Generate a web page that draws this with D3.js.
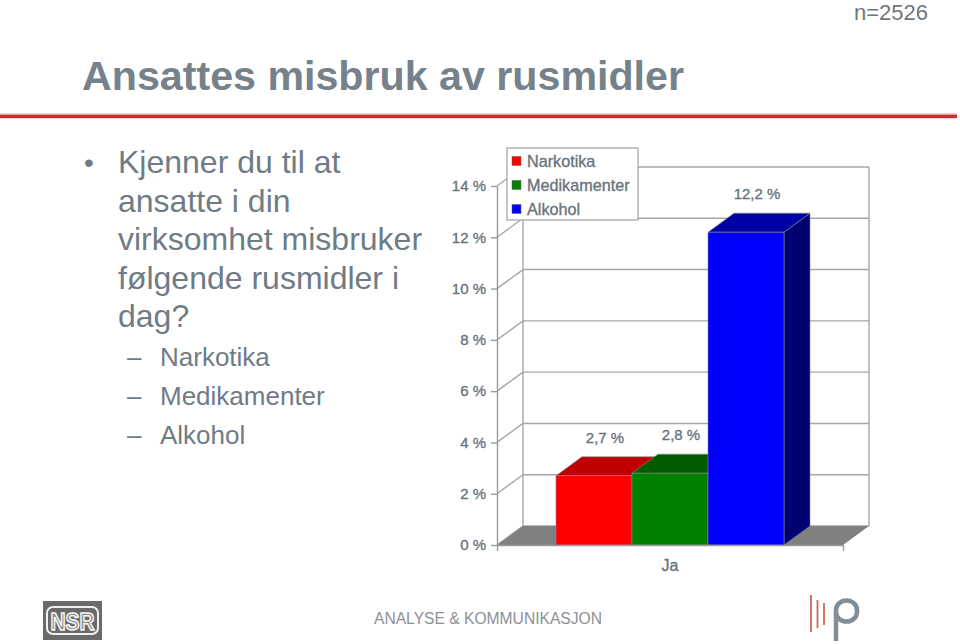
<!DOCTYPE html>
<html>
<head>
<meta charset="utf-8">
<script src="https://cdn.jsdelivr.net/npm/d3@7"></script>
<style>
  html, body { margin: 0; padding: 0; background: #ffffff; }
  svg { display: block; font-family: "Liberation Sans", Arial, sans-serif; }
</style>
</head>
<body>
<svg id="chart" width="960" height="644"></svg>
<script>
// ---- data ----
const categories = ["Ja"];
const series = ["Narkotika", "Medikamenter", "Alkohol"];
const values = [2.7, 2.8, 12.2];
const valueLabels = ["2,7 %", "2,8 %", "12,2 %"];
const yTicks = [0, 2, 4, 6, 8, 10, 12, 14];
const tickLabels = ["0 %", "2 %", "4 %", "6 %", "8 %", "10 %", "12 %", "14 %"];
const titleText = "Ansattes misbruk av rusmidler";
const sampleText = "n=2526";
const questionLines = ["Kjenner du til at", "ansatte i din", "virksomhet misbruker", "følgende rusmidler i", "dag?"];
const subItems = ["Narkotika", "Medikamenter", "Alkohol"];
const footerText = "ANALYSE & KOMMUNIKASJON";

// ---- styles ----
const frontColors = ["#FF0000", "#008000", "#0000FF"];
const topColors = ["#C00000", "#005C00", "#0000A6"];
const sideColors = ["#8C0000", "#003C00", "#000070"];
const textGray = "#6A737C";
const gridGray = "#A6A6A6";

const svg = d3.select("#chart");

// ---- header ----
svg.append("text").attr("x", 928).attr("y", 20).attr("text-anchor", "end")
  .attr("font-size", 22).attr("fill", "#6F767D").text(sampleText);

svg.append("text").attr("x", 82).attr("y", 90)
  .attr("font-size", 41).attr("font-weight", "bold").attr("fill", "#76828B")
  .attr("textLength", 602).attr("lengthAdjust", "spacingAndGlyphs")
  .text(titleText);

svg.append("rect").attr("x", 0).attr("y", 113.5).attr("width", 957).attr("height", 1.5).attr("fill", "#E4A0A0");
svg.append("rect").attr("x", 0).attr("y", 115).attr("width", 957).attr("height", 3.2).attr("fill", "#C3302D");

// ---- left text ----
const lineGap = 38.5;
svg.append("text").attr("x", 84).attr("y", 172).attr("font-size", 28).attr("fill", "#6F7B85").text("•");
svg.selectAll("text.q").data(questionLines).enter().append("text").attr("class", "q")
  .attr("x", 118).attr("y", (d, i) => 173 + i * lineGap)
  .attr("font-size", 32).attr("fill", "#6F7B85").text(d => d);
svg.selectAll("text.sub").data(subItems).enter().append("text").attr("class", "sub")
  .attr("x", 160).attr("y", (d, i) => 366 + i * 39)
  .attr("font-size", 26).attr("fill", "#6F7B85").text(d => d);
svg.selectAll("text.dash").data(subItems).enter().append("text").attr("class", "dash")
  .attr("x", 127).attr("y", (d, i) => 366 + i * 39)
  .attr("font-size", 26).attr("fill", "#6F7B85").text("–");

// ---- chart ----
const DX = 26, DY = -19;
const y = d3.scaleLinear().domain([0, 14]).range([545, 186]);
const xCat = d3.scaleBand().domain(categories).range([497, 843]);
const xSer = d3.scaleBand().domain(series).range([0, xCat.bandwidth()]).paddingOuter(0.776).paddingInner(0);

const g = svg.append("g");
const xL = xCat.range()[0], xR = xCat.range()[1];

// back wall grid lines
g.selectAll("line.grid").data(yTicks).enter().append("line")
  .attr("x1", xL + DX).attr("x2", xR + DX)
  .attr("y1", d => y(d) + DY).attr("y2", d => y(d) + DY)
  .attr("stroke", gridGray).attr("stroke-width", 1.4);
// side wall diagonals
g.selectAll("line.diag").data(yTicks).enter().append("line")
  .attr("x1", xL).attr("x2", xL + DX)
  .attr("y1", d => y(d)).attr("y2", d => y(d) + DY)
  .attr("stroke", gridGray).attr("stroke-width", 1.4);
// back wall verticals
[xL + DX, xR + DX].forEach(xx => {
  g.append("line").attr("x1", xx).attr("x2", xx)
    .attr("y1", y(0) + DY).attr("y2", y(14) + DY)
    .attr("stroke", gridGray).attr("stroke-width", 1.4);
});

// floor
g.append("polygon")
  .attr("points", [[xL, y(0)], [xR, y(0)], [xR + DX, y(0) + DY], [xL + DX, y(0) + DY]].map(p => p.join(",")).join(" "))
  .attr("fill", "#808080");

// y axis
const yAxis = d3.axisLeft(y).tickValues(yTicks).tickFormat((d, i) => tickLabels[i]).tickSize(6).tickSizeOuter(0).tickPadding(5);
const ya = g.append("g").attr("transform", `translate(${xL},0)`).call(yAxis);
ya.selectAll("path, line").attr("stroke", "#9A9A9A").attr("stroke-width", 1.4);
ya.selectAll("text").attr("font-size", 15).attr("fill", textGray)
  .attr("font-family", "Liberation Sans, Arial, sans-serif").attr("stroke", textGray).attr("stroke-width", 0.35);

// bars
series.forEach((s, i) => {
  const bx0 = xCat("Ja") + xSer(s);
  const bx1 = bx0 + xSer.bandwidth();
  const yt = y(values[i]), yb = y(0);
  const pts = arr => arr.map(p => p.join(",")).join(" ");
  g.append("polygon").attr("points", pts([[bx1, yb], [bx1, yt], [bx1 + DX, yt + DY], [bx1 + DX, yb + DY]]))
    .attr("fill", sideColors[i]).attr("stroke", "#8A8A8A").attr("stroke-width", 0.6);
  g.append("polygon").attr("points", pts([[bx0, yt], [bx1, yt], [bx1 + DX, yt + DY], [bx0 + DX, yt + DY]]))
    .attr("fill", topColors[i]).attr("stroke", "#8A8A8A").attr("stroke-width", 0.6);
  g.append("rect").attr("x", bx0).attr("y", yt).attr("width", bx1 - bx0).attr("height", yb - yt)
    .attr("fill", frontColors[i]).attr("stroke", "#8A8A8A").attr("stroke-width", 0.6);
});

// value labels
g.selectAll("text.val").data(values).enter().append("text").attr("class", "val")
  .attr("x", (d, i) => xCat("Ja") + xSer(series[i]) + xSer.bandwidth() / 2 + DX / 2 - 2)
  .attr("y", d => y(d) + DY - 14)
  .attr("text-anchor", "middle").attr("font-size", 15)
  .attr("fill", textGray).attr("stroke", textGray).attr("stroke-width", 0.35).text((d, i) => valueLabels[i]);

// x axis
const xAxis = d3.axisBottom(xCat).tickSize(0).tickSizeOuter(6).tickPadding(15);
const xa = g.append("g").attr("transform", `translate(0,${y(0)})`).call(xAxis);
xa.selectAll("path").attr("stroke", "#9A9A9A").attr("stroke-width", 1.4);
xa.selectAll("text").attr("font-size", 16).attr("fill", textGray)
  .attr("font-family", "Liberation Sans, Arial, sans-serif").attr("stroke", textGray).attr("stroke-width", 0.35);

// legend
const lg = svg.append("g").attr("transform", "translate(507,148)");
lg.append("rect").attr("width", 131).attr("height", 72).attr("fill", "#fff").attr("stroke", "#A0A0A0").attr("stroke-width", 1.2);
series.forEach((s, i) => {
  lg.append("rect").attr("x", 5).attr("y", 8.5 + i * 24).attr("width", 9).attr("height", 9)
    .attr("fill", frontColors[i]).attr("stroke", "#666").attr("stroke-width", 0.5);
  lg.append("text").attr("x", 20).attr("y", 18.5 + i * 24).attr("font-size", 16.2)
    .attr("fill", textGray).attr("stroke", textGray).attr("stroke-width", 0.35).text(s);
});

// ---- footer ----
const nsr = svg.append("g").attr("transform", "translate(43,601)");
nsr.append("rect").attr("width", 59).attr("height", 39).attr("fill", "#6A6A6A");
nsr.append("rect").attr("x", 4).attr("y", 6).attr("width", 51).attr("height", 27).attr("rx", 6)
  .attr("fill", "none").attr("stroke", "#F0F0F0").attr("stroke-width", 2);
nsr.append("text").attr("x", 29.5).attr("y", 29).attr("text-anchor", "middle").attr("font-size", 24)
  .attr("font-weight", "bold").attr("fill", "#8A8A8A").attr("stroke", "#F4F4F4").attr("stroke-width", 1.6)
  .attr("textLength", 44).attr("lengthAdjust", "spacingAndGlyphs").text("NSR");

svg.append("text").attr("x", 374).attr("y", 624).attr("font-size", 16).attr("fill", "#8C9196")
  .attr("textLength", 228).attr("lengthAdjust", "spacingAndGlyphs").text(footerText);

const pl = svg.append("g");
[[811, 595, 632], [817.5, 600, 628], [824, 603, 625]].forEach(([xx, a, b]) => {
  pl.append("line").attr("x1", xx).attr("x2", xx).attr("y1", a).attr("y2", b)
    .attr("stroke", "#D06552").attr("stroke-width", 1.8);
});
pl.append("path").attr("d", "M836,641 V610 A10.5,9.5 0 0 1 857,610 V612 A10.5,9.5 0 0 1 836,612")
  .attr("fill", "none").attr("stroke", "#7F8E98").attr("stroke-width", 4.5);
</script>
</body>
</html>
